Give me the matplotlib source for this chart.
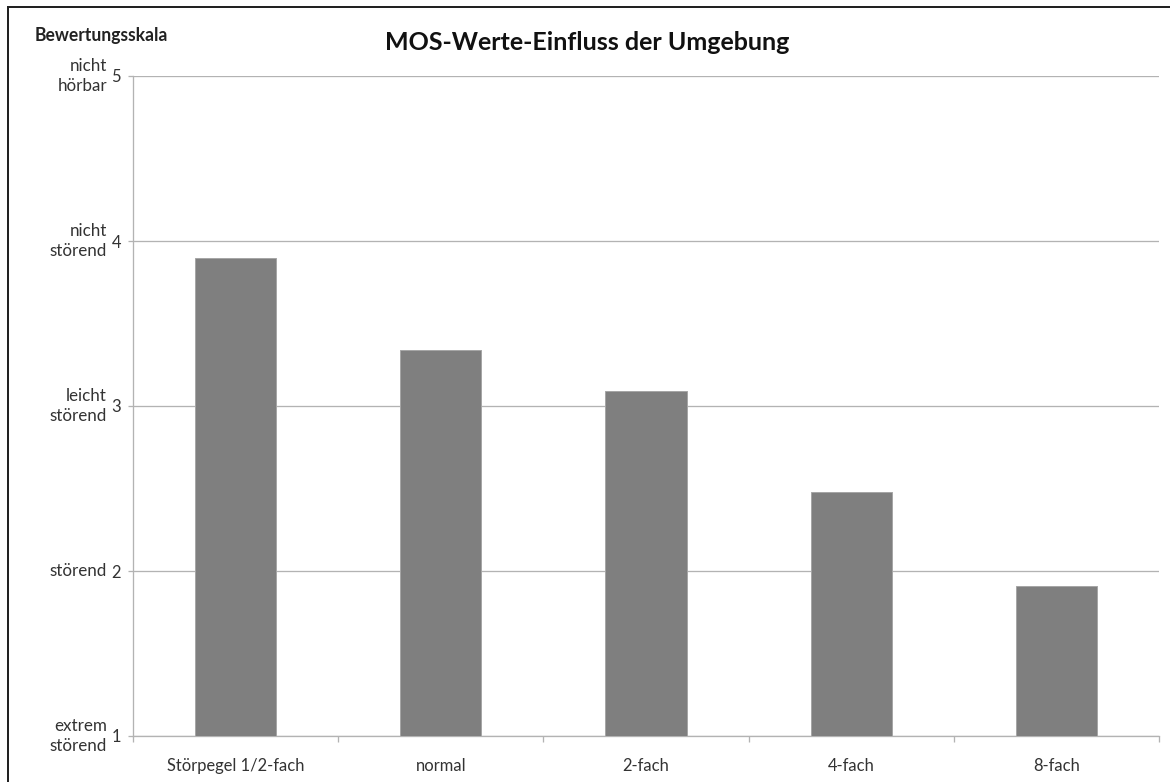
import numpy as np
import matplotlib
matplotlib.use("Agg")
import matplotlib.pyplot as plt
from matplotlib.patches import Rectangle

categories = ["Störpegel 1/2-fach", "normal", "2-fach", "4-fach", "8-fach"]
mos = [3.90, 3.34, 3.09, 2.48, 1.91]
scale_values = [1, 2, 3, 4, 5]
scale_words = ["extrem\nstörend", "störend", "leicht\nstörend", "nicht\nstörend", "nicht\nhörbar"]

plt.rcParams['font.family'] = ['Lato', 'DejaVu Sans']

W, H = 1170, 782
fig = plt.figure(figsize=(W / 72, H / 72), dpi=72)
ax = fig.add_axes([133 / W, 1 - 736 / H, (1159 - 133) / W, (736 - 76) / H])

x = np.arange(len(categories))
ax.bar(x, mos, width=0.395, color="#7f7f7f", edgecolor="#a6a6a6", linewidth=1, zorder=3)

ax.set_xlim(-0.5, len(categories) - 0.5)
ax.set_ylim(1, 5)

# gridlines
ax.set_yticks(scale_values)
ax.yaxis.grid(True, color="#b3b3b3", linewidth=1.3, zorder=0)
ax.set_yticklabels([str(v) for v in scale_values])
ax.tick_params(axis="y", length=5, color="#b3b3b3", width=1.3, pad=7,
               labelsize=16.5, labelcolor="#333333")

ax.set_xticks(x)
ax.set_xticklabels(categories)
ax.set_xticks(np.arange(-0.5, len(categories)), minor=True)
ax.tick_params(axis="x", which="major", length=0, pad=22, labelsize=16.5, labelcolor="#333333")
ax.tick_params(axis="x", which="minor", length=6, color="#b3b3b3", width=1.3)

for s in ["top", "right"]:
    ax.spines[s].set_visible(False)
for s in ["left", "bottom"]:
    ax.spines[s].set_color("#b3b3b3")
    ax.spines[s].set_linewidth(1.3)

# words of the rating scale next to the numbers
for v, w in zip(scale_values, scale_words):
    if "\n" in w:
        ax.annotate(w, xy=(0, v), xycoords=("axes fraction", "data"),
                    xytext=(-26, 0), textcoords="offset points",
                    ha="right", va="center", fontsize=17, color="#333333",
                    linespacing=1.25)
    else:
        ax.annotate(w, xy=(0, v), xycoords=("axes fraction", "data"),
                    xytext=(-26, 0), textcoords="offset points",
                    ha="right", va="center", fontsize=17, color="#333333")

fig.text(587 / W, 1 - 42 / H, "MOS-Werte-Einfluss der Umgebung", ha="center", va="center",
         fontsize=25, fontweight="bold", color="#111111")
fig.text(35 / W, 1 - 36 / H, "Bewertungsskala", ha="left", va="center",
         fontsize=17.5, fontweight="bold", color="#222222")

# outer frame (only top and left edge visible in the crop)
fig.add_artist(Rectangle((8 / W, -0.1), 1.2, 1.1 - 7 / H, transform=fig.transFigure,
                         fill=False, edgecolor="#222222", linewidth=2))

fig.savefig("out.png", dpi=72)
